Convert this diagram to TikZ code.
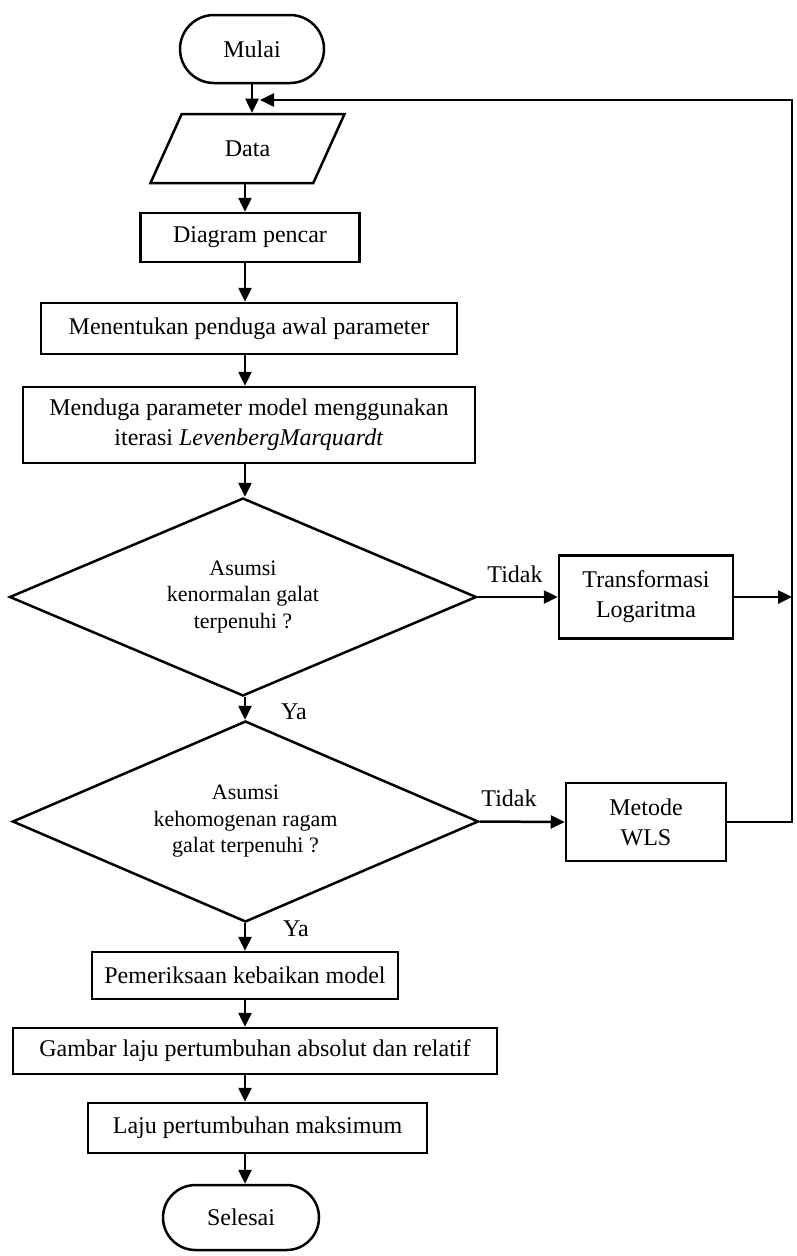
\documentclass[tikz,border=0pt]{standalone}
\usepackage{fontspec}
\setmainfont{Liberation Serif}
\usetikzlibrary{arrows.meta,positioning}
\usetikzlibrary{shapes.geometric,shapes.misc}
\tikzset{
        flownode/.style={align=center,inner sep=0pt,draw=black,line width=2.5pt,font=\fontsize{24}{30}\selectfont},
        % Start and end
        node_terminal/.style={flownode, rounded rectangle},
        % Input data
        node_io/.style={flownode, trapezium, trapezium left angle=56, trapezium right angle=124, trapezium stretches=true},
        % Process steps
        node_process/.style={flownode, rectangle},
        % Decisions
        node_decision/.style={flownode, diamond, aspect=2.3, font=\fontsize{22}{26.5}\selectfont},
        % Branch labels
        node_label/.style={inner sep=0pt, font=\fontsize{24}{30}\selectfont},
        % Connectors
        flow_line/.style={line width=2.5pt},
        flow_arrow/.style={flow_line, -{Triangle[length=14pt,width=13pt]}}
}
\begin{document}
\begin{tikzpicture}[x=1pt, y=-1pt]
            \useasboundingbox (0,0) rectangle (797,1256);
            \coordinate (axis) at (245,0);
            \coordinate (loop_top) at (792,100);
            % main column
            \node[node_terminal, minimum width=144, minimum height=68] (mulai) at (252,49) {Mulai};
            \node[node_io, minimum width=195, minimum height=69] (data) at (247.5,148.5) {Data};
            \node[node_process, minimum width=219, minimum height=49] (pencar) at (250,237.5) {Diagram pencar};
            \node[node_process, minimum width=416, minimum height=51] (awal) at (249,328.5) {Menentukan penduga awal parameter};
            \node[node_process, minimum width=452, minimum height=76] (iterasi) at (249,425) {Menduga parameter model menggunakan\\iterasi \textit{LevenbergMarquardt}};
            \node[node_decision, minimum width=467, minimum height=198] (normal) at (243,597) {Asumsi\\kenormalan galat\\terpenuhi ?};
            \node[node_decision, minimum width=466, minimum height=201] (homogen) at (245.5,821.5) {Asumsi\\kehomogenan ragam\\galat terpenuhi ?};
            \node[node_process, minimum width=306, minimum height=47] (periksa) at (245,975.5) {Pemeriksaan kebaikan model};
            \node[node_process, minimum width=484, minimum height=46] (gambar) at (255,1051) {Gambar laju pertumbuhan absolut dan relatif};
            \node[node_process, minimum width=339, minimum height=50] (maksimum) at (257.5,1128) {Laju pertumbuhan maksimum};
            \node[node_terminal, minimum width=156, minimum height=65] (selesai) at (241,1217.5) {Selesai};
            % side column
            \node[node_process, minimum width=174, minimum height=83] (transformasi) at (646,597) {Transformasi\\Logaritma};
            \node[node_process, minimum width=160, minimum height=78] (wls) at (646,822) {Metode\\WLS};
            % branch labels
            \node[node_label] (tidak_normal) at (515,574) {Tidak};
            \node[node_label] (tidak_homogen) at (509,798) {Tidak};
            \node[node_label] (ya_normal) at (294,712) {Ya};
            \node[node_label] (ya_homogen) at (296,929) {Ya};
            % connectors
            \draw[flow_arrow] (mulai.south) -- (mulai.south |- data.north);
            \draw[flow_arrow] (axis |- data.south) -- (axis |- pencar.north);
            \draw[flow_arrow] (axis |- pencar.south) -- (axis |- awal.north);
            \draw[flow_arrow] (axis |- awal.south) -- (axis |- iterasi.north);
            \draw[flow_arrow] (axis |- iterasi.south) -- (axis |- normal.north);
            \draw[flow_arrow] (axis |- normal.south) -- (axis |- homogen.north);
            \draw[flow_arrow] (axis |- homogen.south) -- (axis |- periksa.north);
            \draw[flow_arrow] (axis |- periksa.south) -- (axis |- gambar.north);
            \draw[flow_arrow] (axis |- gambar.south) -- (axis |- maksimum.north);
            \draw[flow_arrow] (axis |- maksimum.south) -- (axis |- selesai.north);
            \draw[flow_arrow] (normal.east) -- (transformasi.west);
            \draw[flow_arrow] (homogen.east) -- (wls.west);
            \draw[flow_arrow] (transformasi.east) -- (transformasi.east -| loop_top);
            \draw[flow_arrow, shorten >=8pt] (wls.east) -| (loop_top) -- (mulai.south |- loop_top);
\end{tikzpicture}
\end{document}
